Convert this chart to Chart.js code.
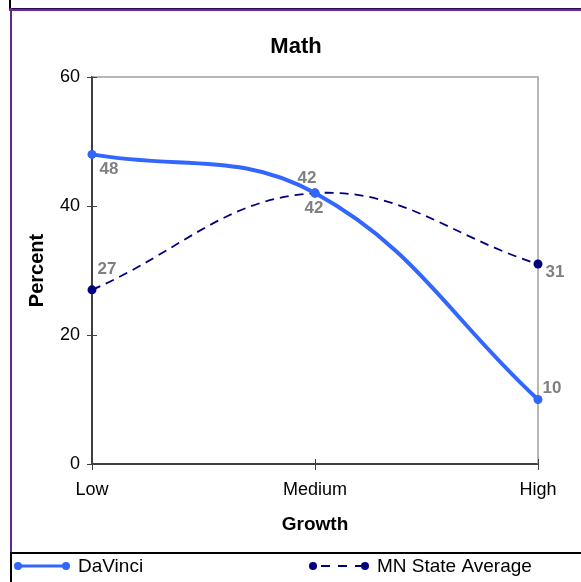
<!DOCTYPE html>
<html><head><meta charset="utf-8">
<script src="https://cdn.jsdelivr.net/npm/chart.js@4"></script>
<style>html,body{margin:0;padding:0;background:#fff;}canvas{display:block}</style>
</head><body>
<canvas id="c" width="581" height="582"></canvas>
<script>
const categories = ['Low', 'Medium', 'High'];
const davinci = [48, 42, 10];
const mnState = [27, 42, 31];
const yTicks = [0, 20, 40, 60];
const seriesNames = ['DaVinci', 'MN State Average'];
const chartTitle = 'Math';
const xTitle = 'Growth';
const yTitle = 'Percent';

const FONT = "'Liberation Sans', Arial, Helvetica, sans-serif";
const BLUE = '#3366ff';
const NAVY = '#000080';
const AXIS = '#404040';
const LABEL_GRAY = '#808080';
// per dataset, per point label offsets (style)
const labelOffsets = [
  [[17, 15], [-8, -15], [14, -11]],
  [[15, -21], [-1, 15], [17, 8]]
];

const extras = {
  id: 'extras',
  beforeDatasetsDraw(chart) {
    const {ctx, chartArea: a} = chart;
    ctx.save();
    ctx.strokeStyle = '#a0a0a0';
    ctx.lineWidth = 1.5;
    ctx.beginPath();
    ctx.moveTo(a.left, a.top); ctx.lineTo(a.right, a.top); ctx.lineTo(a.right, a.bottom);
    ctx.stroke();
    ctx.strokeStyle = AXIS; ctx.lineWidth = 1;
    const ys = chart.scales.y, xs = chart.scales.x;
    ys.ticks.forEach(t => { const p = Math.round(ys.getPixelForValue(t.value)) + 0.5; ctx.beginPath(); ctx.moveTo(a.left, p); ctx.lineTo(a.left + 5, p); ctx.stroke(); });
    xs.ticks.forEach((t, i) => { const p = Math.round(xs.getPixelForTick(i)) + 0.5; ctx.beginPath(); ctx.moveTo(p, a.bottom); ctx.lineTo(p, a.bottom - 5); ctx.stroke(); });
    ctx.restore();
  },
  afterDatasetsDraw(chart) {
    const {ctx} = chart;
    ctx.save();
    ctx.font = 'bold 17px ' + FONT;
    ctx.fillStyle = LABEL_GRAY;
    ctx.textAlign = 'center';
    ctx.textBaseline = 'middle';
    chart.data.datasets.forEach((ds, di) => {
      chart.getDatasetMeta(di).data.forEach((pt, i) => {
        const o = labelOffsets[di][i];
        ctx.fillText(String(ds.data[i]), pt.x + o[0], pt.y + o[1]);
      });
    });
    ctx.restore();
  },
  afterDraw(chart) {
    const {ctx, width, height} = chart;
    ctx.save();
    // title
    ctx.fillStyle = '#000'; ctx.font = 'bold 22px ' + FONT;
    ctx.textAlign = 'center'; ctx.textBaseline = 'middle';
    ctx.fillText(chartTitle, 296, 47);
    // frame
    ctx.fillStyle = '#000'; ctx.fillRect(9, 0, 2, 9);
    ctx.fillStyle = '#6a2a9e'; ctx.fillRect(9, 8, width - 9, 3);
    ctx.fillStyle = '#2a0a45'; ctx.fillRect(9, 8, width - 9, 1);
    ctx.fillStyle = '#5e2a8e'; ctx.fillRect(10, 8, 2, 545);
    ctx.fillStyle = '#000'; ctx.fillRect(10, 552, width - 10, 2);
    ctx.fillRect(10, 552, 2, height - 552);
    // legend
    const ly = 566;
    const items = [
      {x0: 18, x1: 66, tx: 78, color: BLUE, w: 3, dash: [], name: seriesNames[0]},
      {x0: 313, x1: 365, tx: 377, color: NAVY, w: 1.8, dash: [9, 8], name: seriesNames[1]}
    ];
    items.forEach(it => {
      ctx.strokeStyle = it.color; ctx.lineWidth = it.w; ctx.setLineDash(it.dash);
      ctx.beginPath();
      if (it.dash.length) { ctx.moveTo(it.x0 + 8, ly); } else { ctx.moveTo(it.x0, ly); }
      ctx.lineTo(it.x1, ly); ctx.stroke();
      ctx.setLineDash([]);
      ctx.fillStyle = it.color;
      [it.x0, it.x1].forEach(x => { ctx.beginPath(); ctx.arc(x, ly, 4, 0, Math.PI * 2); ctx.fill(); });
      ctx.fillStyle = '#000'; ctx.font = '19px ' + FONT; ctx.textBaseline = 'middle'; ctx.textAlign = 'left';
      ctx.fillText(it.name, it.tx, ly + 1);
    });
    ctx.restore();
  }
};

new Chart(document.getElementById('c'), {
  type: 'line',
  data: {
    labels: categories,
    datasets: [
      {label: seriesNames[0], data: davinci, borderColor: BLUE, backgroundColor: BLUE, borderWidth: 4,
       pointRadius: 4.5, pointBackgroundColor: BLUE, pointBorderWidth: 0, tension: 0.4, clip: false},
      {label: seriesNames[1], data: mnState, borderColor: NAVY, backgroundColor: NAVY, borderWidth: 1.8,
       borderDash: [9, 6], pointRadius: 4.5, pointBackgroundColor: NAVY, pointBorderWidth: 0, tension: 0.4, clip: false}
    ]
  },
  options: {
    responsive: false,
    devicePixelRatio: 1,
    animation: false,
    layout: {padding: {left: 11, right: 43, top: 77, bottom: 43}},
    plugins: {
      legend: {display: false},
      tooltip: {enabled: false},
      title: {display: false}
    },
    scales: {
      x: {
        offset: false,
        afterFit(s) { s.height = 75; },
        grid: {drawOnChartArea: false, drawTicks: true, tickLength: 6, color: AXIS, lineWidth: 1},
        border: {color: AXIS, width: 2},
        ticks: {color: '#000', font: {family: FONT, size: 18}, padding: 9, maxRotation: 0},
        title: {display: true, text: xTitle, color: '#000', font: {family: FONT, size: 19, weight: 'bold', lineHeight: 1.2}, padding: {top: 4, bottom: 3}}
      },
      y: {
        min: 0, max: 60,
        afterFit(s) { s.width = 81; },
        afterBuildTicks(s) { s.ticks = yTicks.map(v => ({value: v})); },
        grid: {drawOnChartArea: false, drawTicks: true, tickLength: 5, color: AXIS, lineWidth: 1},
        border: {color: AXIS, width: 2},
        ticks: {color: '#000', font: {family: FONT, size: 18}, padding: 7},
        title: {display: true, text: yTitle, color: '#000', font: {family: FONT, size: 20, weight: 'bold', lineHeight: 1.2}, padding: {top: 14, bottom: 4}}
      }
    }
  },
  plugins: [extras]
});
</script>
</body></html>
